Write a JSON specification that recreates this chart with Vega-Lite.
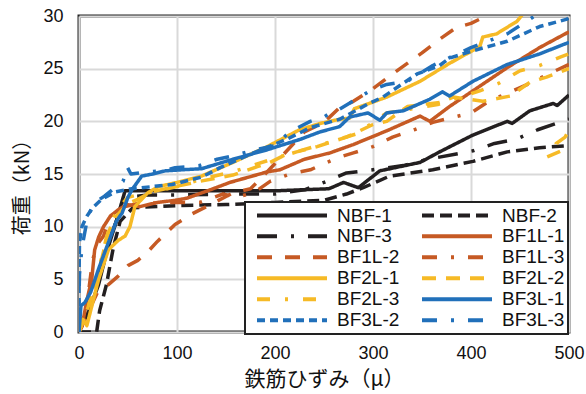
{
  "$schema": "https://vega.github.io/schema/vega-lite/v6.json",
  "width": 490,
  "height": 316,
  "autosize": "none",
  "padding": {"left": 79, "top": 16, "right": 17, "bottom": 62},
  "background": "white",
  "datasets": {
    "pts": [
      {"s":"NBF-1","i":0,"x":0,"y":0},{"s":"NBF-1","i":1,"x":10,"y":2},{"s":"NBF-1","i":2,"x":20,"y":4.5},{"s":"NBF-1","i":3,"x":28,"y":7.5},{"s":"NBF-1","i":4,"x":38,"y":10.5},{"s":"NBF-1","i":5,"x":47,"y":13.4},{"s":"NBF-1","i":6,"x":100,"y":13.4},{"s":"NBF-1","i":7,"x":150,"y":13.4},{"s":"NBF-1","i":8,"x":200,"y":13.4},{"s":"NBF-1","i":9,"x":255,"y":13.6},{"s":"NBF-1","i":10,"x":270,"y":14.2},{"s":"NBF-1","i":11,"x":285,"y":13.7},{"s":"NBF-1","i":12,"x":307,"y":15.3},{"s":"NBF-1","i":13,"x":348,"y":16.1},{"s":"NBF-1","i":14,"x":368,"y":17.1},{"s":"NBF-1","i":15,"x":402,"y":18.7},{"s":"NBF-1","i":16,"x":437,"y":20.0},{"s":"NBF-1","i":17,"x":442,"y":19.8},{"s":"NBF-1","i":18,"x":460,"y":21.0},{"s":"NBF-1","i":19,"x":484,"y":21.7},{"s":"NBF-1","i":20,"x":488,"y":21.5},{"s":"NBF-1","i":21,"x":500,"y":22.5},
      {"s":"NBF-2","i":0,"x":0,"y":0},{"s":"NBF-2","i":1,"x":18,"y":0},{"s":"NBF-2","i":2,"x":21,"y":2},{"s":"NBF-2","i":3,"x":28,"y":4.5},{"s":"NBF-2","i":4,"x":35,"y":8},{"s":"NBF-2","i":5,"x":42,"y":10.5},{"s":"NBF-2","i":6,"x":55,"y":11.8},{"s":"NBF-2","i":7,"x":100,"y":12},{"s":"NBF-2","i":8,"x":150,"y":12.1},{"s":"NBF-2","i":9,"x":200,"y":12.3},{"s":"NBF-2","i":10,"x":250,"y":12.5},{"s":"NBF-2","i":11,"x":273,"y":13.1},{"s":"NBF-2","i":12,"x":290,"y":13.7},{"s":"NBF-2","i":13,"x":317,"y":14.8},{"s":"NBF-2","i":14,"x":361,"y":15.4},{"s":"NBF-2","i":15,"x":402,"y":16.2},{"s":"NBF-2","i":16,"x":437,"y":17.1},{"s":"NBF-2","i":17,"x":470,"y":17.5},{"s":"NBF-2","i":18,"x":500,"y":17.7},
      {"s":"NBF-3","i":0,"x":0,"y":0},{"s":"NBF-3","i":1,"x":10,"y":2.5},{"s":"NBF-3","i":2,"x":20,"y":5},{"s":"NBF-3","i":3,"x":30,"y":8.5},{"s":"NBF-3","i":4,"x":40,"y":11},{"s":"NBF-3","i":5,"x":50,"y":12.8},{"s":"NBF-3","i":6,"x":70,"y":13},{"s":"NBF-3","i":7,"x":100,"y":13},{"s":"NBF-3","i":8,"x":150,"y":13.1},{"s":"NBF-3","i":9,"x":200,"y":13.1},{"s":"NBF-3","i":10,"x":230,"y":13.5},{"s":"NBF-3","i":11,"x":250,"y":14.2},{"s":"NBF-3","i":12,"x":273,"y":15.1},{"s":"NBF-3","i":13,"x":300,"y":15.4},{"s":"NBF-3","i":14,"x":331,"y":15.8},{"s":"NBF-3","i":15,"x":356,"y":16.4},{"s":"NBF-3","i":16,"x":402,"y":17.2},{"s":"NBF-3","i":17,"x":424,"y":17.9},{"s":"NBF-3","i":18,"x":446,"y":18.3},{"s":"NBF-3","i":19,"x":468,"y":19.2},{"s":"NBF-3","i":20,"x":487,"y":19.8},{"s":"NBF-3","i":21,"x":500,"y":20.2},
      {"s":"BF1L-1","i":0,"x":0,"y":0},{"s":"BF1L-1","i":1,"x":3,"y":0.5},{"s":"BF1L-1","i":2,"x":8,"y":3},{"s":"BF1L-1","i":3,"x":13,"y":5},{"s":"BF1L-1","i":4,"x":16,"y":7.8},{"s":"BF1L-1","i":5,"x":20,"y":9},{"s":"BF1L-1","i":6,"x":25,"y":10},{"s":"BF1L-1","i":7,"x":32,"y":11},{"s":"BF1L-1","i":8,"x":40,"y":11.6},{"s":"BF1L-1","i":9,"x":49,"y":12.1},{"s":"BF1L-1","i":10,"x":62,"y":11.9},{"s":"BF1L-1","i":11,"x":80,"y":12.3},{"s":"BF1L-1","i":12,"x":98,"y":12.5},{"s":"BF1L-1","i":13,"x":110,"y":12.7},{"s":"BF1L-1","i":14,"x":131,"y":13.4},{"s":"BF1L-1","i":15,"x":154,"y":14.2},{"s":"BF1L-1","i":16,"x":192,"y":15.2},{"s":"BF1L-1","i":17,"x":205,"y":15.4},{"s":"BF1L-1","i":18,"x":230,"y":16.4},{"s":"BF1L-1","i":19,"x":256,"y":17},{"s":"BF1L-1","i":20,"x":280,"y":17.8},{"s":"BF1L-1","i":21,"x":314,"y":19.1},{"s":"BF1L-1","i":22,"x":348,"y":20.5},{"s":"BF1L-1","i":23,"x":358,"y":20},{"s":"BF1L-1","i":24,"x":378,"y":21.4},{"s":"BF1L-1","i":25,"x":402,"y":22.9},{"s":"BF1L-1","i":26,"x":437,"y":25.1},{"s":"BF1L-1","i":27,"x":470,"y":27},{"s":"BF1L-1","i":28,"x":500,"y":28.5},
      {"s":"BF1L-2","i":0,"x":0,"y":0},{"s":"BF1L-2","i":1,"x":5,"y":1},{"s":"BF1L-2","i":2,"x":10,"y":2},{"s":"BF1L-2","i":3,"x":19,"y":3.8},{"s":"BF1L-2","i":4,"x":30,"y":4.5},{"s":"BF1L-2","i":5,"x":40,"y":5.3},{"s":"BF1L-2","i":6,"x":50,"y":6.3},{"s":"BF1L-2","i":7,"x":60,"y":6.8},{"s":"BF1L-2","i":8,"x":70,"y":7.6},{"s":"BF1L-2","i":9,"x":80,"y":8.6},{"s":"BF1L-2","i":10,"x":98,"y":10.2},{"s":"BF1L-2","i":11,"x":115,"y":11.2},{"s":"BF1L-2","i":12,"x":130,"y":11.9},{"s":"BF1L-2","i":13,"x":157,"y":13.2},{"s":"BF1L-2","i":14,"x":175,"y":13.6},{"s":"BF1L-2","i":15,"x":190,"y":15},{"s":"BF1L-2","i":16,"x":210,"y":17},{"s":"BF1L-2","i":17,"x":230,"y":19},{"s":"BF1L-2","i":18,"x":250,"y":19.9},{"s":"BF1L-2","i":19,"x":266,"y":21.3},{"s":"BF1L-2","i":20,"x":280,"y":21.9},{"s":"BF1L-2","i":21,"x":300,"y":23.1},{"s":"BF1L-2","i":22,"x":320,"y":24.5},{"s":"BF1L-2","i":23,"x":335,"y":25.5},{"s":"BF1L-2","i":24,"x":350,"y":26.5},{"s":"BF1L-2","i":25,"x":368,"y":27.8},{"s":"BF1L-2","i":26,"x":385,"y":28.9},{"s":"BF1L-2","i":27,"x":400,"y":29.3},{"s":"BF1L-2","i":28,"x":420,"y":30.2},{"s":"BF1L-2","i":29,"x":430,"y":31},
      {"s":"BF1L-3","i":0,"x":0,"y":0},{"s":"BF1L-3","i":1,"x":5,"y":2},{"s":"BF1L-3","i":2,"x":10,"y":4},{"s":"BF1L-3","i":3,"x":14,"y":6.9},{"s":"BF1L-3","i":4,"x":20,"y":8.5},{"s":"BF1L-3","i":5,"x":25,"y":9.1},{"s":"BF1L-3","i":6,"x":32,"y":11},{"s":"BF1L-3","i":7,"x":47,"y":11.9},{"s":"BF1L-3","i":8,"x":60,"y":12.2},{"s":"BF1L-3","i":9,"x":100,"y":12.3},{"s":"BF1L-3","i":10,"x":123,"y":12.3},{"s":"BF1L-3","i":11,"x":147,"y":13.1},{"s":"BF1L-3","i":12,"x":160,"y":12.8},{"s":"BF1L-3","i":13,"x":178,"y":13.2},{"s":"BF1L-3","i":14,"x":195,"y":14.3},{"s":"BF1L-3","i":15,"x":215,"y":15},{"s":"BF1L-3","i":16,"x":236,"y":15.4},{"s":"BF1L-3","i":17,"x":253,"y":16.1},{"s":"BF1L-3","i":18,"x":266,"y":16.6},{"s":"BF1L-3","i":19,"x":280,"y":17},{"s":"BF1L-3","i":20,"x":300,"y":17.6},{"s":"BF1L-3","i":21,"x":320,"y":18.5},{"s":"BF1L-3","i":22,"x":342,"y":19.2},{"s":"BF1L-3","i":23,"x":361,"y":19.9},{"s":"BF1L-3","i":24,"x":378,"y":20.3},{"s":"BF1L-3","i":25,"x":400,"y":20.8},{"s":"BF1L-3","i":26,"x":418,"y":21.9},{"s":"BF1L-3","i":27,"x":438,"y":22.7},{"s":"BF1L-3","i":28,"x":460,"y":23.6},{"s":"BF1L-3","i":29,"x":479,"y":24.5},{"s":"BF1L-3","i":30,"x":500,"y":25.4},
      {"s":"BF2L-1","i":0,"x":0,"y":0},{"s":"BF2L-1","i":1,"x":4,"y":1.2},{"s":"BF2L-1","i":2,"x":8,"y":0.6},{"s":"BF2L-1","i":3,"x":14,"y":2.8},{"s":"BF2L-1","i":4,"x":20,"y":5},{"s":"BF2L-1","i":5,"x":30,"y":7.8},{"s":"BF2L-1","i":6,"x":40,"y":8.7},{"s":"BF2L-1","i":7,"x":47,"y":9.1},{"s":"BF2L-1","i":8,"x":52,"y":10},{"s":"BF2L-1","i":9,"x":57,"y":11.9},{"s":"BF2L-1","i":10,"x":64,"y":12.6},{"s":"BF2L-1","i":11,"x":70,"y":13.2},{"s":"BF2L-1","i":12,"x":81,"y":13.8},{"s":"BF2L-1","i":13,"x":100,"y":14.2},{"s":"BF2L-1","i":14,"x":125,"y":14.8},{"s":"BF2L-1","i":15,"x":157,"y":16.1},{"s":"BF2L-1","i":16,"x":192,"y":17.6},{"s":"BF2L-1","i":17,"x":225,"y":19.2},{"s":"BF2L-1","i":18,"x":246,"y":19.8},{"s":"BF2L-1","i":19,"x":266,"y":20.2},{"s":"BF2L-1","i":20,"x":276,"y":20.3},{"s":"BF2L-1","i":21,"x":281,"y":21.2},{"s":"BF2L-1","i":22,"x":314,"y":22.3},{"s":"BF2L-1","i":23,"x":348,"y":23.8},{"s":"BF2L-1","i":24,"x":378,"y":25.5},{"s":"BF2L-1","i":25,"x":409,"y":27.1},{"s":"BF2L-1","i":26,"x":412,"y":28},{"s":"BF2L-1","i":27,"x":426,"y":28.3},{"s":"BF2L-1","i":28,"x":447,"y":29.5},{"s":"BF2L-1","i":29,"x":453,"y":30.2},{"s":"BF2L-1","i":30,"x":460,"y":31},
      {"s":"BF2L-2","i":0,"x":0,"y":0},{"s":"BF2L-2","i":1,"x":8,"y":2},{"s":"BF2L-2","i":2,"x":15,"y":4},{"s":"BF2L-2","i":3,"x":22,"y":6.5},{"s":"BF2L-2","i":4,"x":30,"y":9.5},{"s":"BF2L-2","i":5,"x":38,"y":11},{"s":"BF2L-2","i":6,"x":50,"y":12.2},{"s":"BF2L-2","i":7,"x":60,"y":12.6},{"s":"BF2L-2","i":8,"x":74,"y":13.3},{"s":"BF2L-2","i":9,"x":98,"y":13.8},{"s":"BF2L-2","i":10,"x":123,"y":14.3},{"s":"BF2L-2","i":11,"x":157,"y":14.9},{"s":"BF2L-2","i":12,"x":182,"y":15.7},{"s":"BF2L-2","i":13,"x":195,"y":16.1},{"s":"BF2L-2","i":14,"x":208,"y":16.7},{"s":"BF2L-2","i":15,"x":222,"y":17.1},{"s":"BF2L-2","i":16,"x":243,"y":17.6},{"s":"BF2L-2","i":17,"x":256,"y":18},{"s":"BF2L-2","i":18,"x":273,"y":18.5},{"s":"BF2L-2","i":19,"x":300,"y":19.7},{"s":"BF2L-2","i":20,"x":314,"y":20},{"s":"BF2L-2","i":21,"x":335,"y":21.4},{"s":"BF2L-2","i":22,"x":351,"y":21.6},{"s":"BF2L-2","i":23,"x":368,"y":21.8},{"s":"BF2L-2","i":24,"x":382,"y":22.3},{"s":"BF2L-2","i":25,"x":412,"y":21.9},{"s":"BF2L-2","i":26,"x":440,"y":22.4},{"s":"BF2L-2","i":27,"x":460,"y":23.7},{"s":"BF2L-2","i":28,"x":477,"y":24.2},{"s":"BF2L-2","i":29,"x":500,"y":25},{"s":"BF2L-2","i":30,"x":520,"y":25.5},{"s":"BF2L-2","i":31,"x":525,"y":19.8},{"s":"BF2L-2","i":32,"x":502,"y":19.5},{"s":"BF2L-2","i":33,"x":496,"y":18.5},{"s":"BF2L-2","i":34,"x":487,"y":17.9},{"s":"BF2L-2","i":35,"x":492,"y":17.2},{"s":"BF2L-2","i":36,"x":477,"y":16.6},
      {"s":"BF2L-3","i":0,"x":0,"y":0},{"s":"BF2L-3","i":1,"x":8,"y":2},{"s":"BF2L-3","i":2,"x":18,"y":5},{"s":"BF2L-3","i":3,"x":28,"y":9},{"s":"BF2L-3","i":4,"x":38,"y":11.5},{"s":"BF2L-3","i":5,"x":50,"y":12.8},{"s":"BF2L-3","i":6,"x":70,"y":13.2},{"s":"BF2L-3","i":7,"x":100,"y":13.8},{"s":"BF2L-3","i":8,"x":125,"y":14.5},{"s":"BF2L-3","i":9,"x":160,"y":15.3},{"s":"BF2L-3","i":10,"x":200,"y":16.5},{"s":"BF2L-3","i":11,"x":240,"y":17.6},{"s":"BF2L-3","i":12,"x":283,"y":18.8},{"s":"BF2L-3","i":13,"x":314,"y":20.8},{"s":"BF2L-3","i":14,"x":340,"y":21.2},{"s":"BF2L-3","i":15,"x":366,"y":21.6},{"s":"BF2L-3","i":16,"x":409,"y":22.9},{"s":"BF2L-3","i":17,"x":428,"y":23.6},{"s":"BF2L-3","i":18,"x":450,"y":24.8},{"s":"BF2L-3","i":19,"x":470,"y":25.3},{"s":"BF2L-3","i":20,"x":491,"y":26.1},{"s":"BF2L-3","i":21,"x":500,"y":26.4},
      {"s":"BF3L-1","i":0,"x":0,"y":0},{"s":"BF3L-1","i":1,"x":2,"y":2.5},{"s":"BF3L-1","i":2,"x":6,"y":2.8},{"s":"BF3L-1","i":3,"x":12,"y":3.8},{"s":"BF3L-1","i":4,"x":20,"y":6},{"s":"BF3L-1","i":5,"x":30,"y":8.5},{"s":"BF3L-1","i":6,"x":38,"y":10.5},{"s":"BF3L-1","i":7,"x":44,"y":11.3},{"s":"BF3L-1","i":8,"x":50,"y":12.8},{"s":"BF3L-1","i":9,"x":54,"y":13.5},{"s":"BF3L-1","i":10,"x":64,"y":14.8},{"s":"BF3L-1","i":11,"x":75,"y":15},{"s":"BF3L-1","i":12,"x":88,"y":15.3},{"s":"BF3L-1","i":13,"x":105,"y":15.4},{"s":"BF3L-1","i":14,"x":125,"y":15.5},{"s":"BF3L-1","i":15,"x":157,"y":16.4},{"s":"BF3L-1","i":16,"x":192,"y":17.3},{"s":"BF3L-1","i":17,"x":226,"y":18.3},{"s":"BF3L-1","i":18,"x":246,"y":19},{"s":"BF3L-1","i":19,"x":266,"y":19.5},{"s":"BF3L-1","i":20,"x":276,"y":20.4},{"s":"BF3L-1","i":21,"x":295,"y":20.8},{"s":"BF3L-1","i":22,"x":307,"y":20.1},{"s":"BF3L-1","i":23,"x":314,"y":20.8},{"s":"BF3L-1","i":24,"x":331,"y":21},{"s":"BF3L-1","i":25,"x":358,"y":22.1},{"s":"BF3L-1","i":26,"x":371,"y":22.8},{"s":"BF3L-1","i":27,"x":378,"y":22.4},{"s":"BF3L-1","i":28,"x":402,"y":23.8},{"s":"BF3L-1","i":29,"x":437,"y":25.4},{"s":"BF3L-1","i":30,"x":470,"y":26.4},{"s":"BF3L-1","i":31,"x":500,"y":27.5},
      {"s":"BF3L-2","i":0,"x":0,"y":0},{"s":"BF3L-2","i":1,"x":0,"y":5},{"s":"BF3L-2","i":2,"x":0.5,"y":8.5},{"s":"BF3L-2","i":3,"x":3,"y":10},{"s":"BF3L-2","i":4,"x":8,"y":11},{"s":"BF3L-2","i":5,"x":14,"y":11.8},{"s":"BF3L-2","i":6,"x":23,"y":12.6},{"s":"BF3L-2","i":7,"x":37,"y":13.3},{"s":"BF3L-2","i":8,"x":54,"y":13.6},{"s":"BF3L-2","i":9,"x":64,"y":13.7},{"s":"BF3L-2","i":10,"x":95,"y":14},{"s":"BF3L-2","i":11,"x":125,"y":14.7},{"s":"BF3L-2","i":12,"x":144,"y":15.6},{"s":"BF3L-2","i":13,"x":178,"y":17},{"s":"BF3L-2","i":14,"x":212,"y":18.3},{"s":"BF3L-2","i":15,"x":236,"y":19.4},{"s":"BF3L-2","i":16,"x":266,"y":20.2},{"s":"BF3L-2","i":17,"x":294,"y":21.6},{"s":"BF3L-2","i":18,"x":310,"y":22.3},{"s":"BF3L-2","i":19,"x":345,"y":24.5},{"s":"BF3L-2","i":20,"x":368,"y":25.3},{"s":"BF3L-2","i":21,"x":378,"y":26},{"s":"BF3L-2","i":22,"x":402,"y":26.7},{"s":"BF3L-2","i":23,"x":437,"y":27.6},{"s":"BF3L-2","i":24,"x":470,"y":29},{"s":"BF3L-2","i":25,"x":498,"y":29.7},{"s":"BF3L-2","i":26,"x":505,"y":30.2},
      {"s":"BF3L-3","i":0,"x":0,"y":0},{"s":"BF3L-3","i":1,"x":0,"y":3},{"s":"BF3L-3","i":2,"x":0.5,"y":5.5},{"s":"BF3L-3","i":3,"x":3,"y":8},{"s":"BF3L-3","i":4,"x":9,"y":11},{"s":"BF3L-3","i":5,"x":16,"y":12.3},{"s":"BF3L-3","i":6,"x":26,"y":12.9},{"s":"BF3L-3","i":7,"x":34,"y":13.5},{"s":"BF3L-3","i":8,"x":45,"y":14.3},{"s":"BF3L-3","i":9,"x":49,"y":15.7},{"s":"BF3L-3","i":10,"x":53,"y":15},{"s":"BF3L-3","i":11,"x":69,"y":15.2},{"s":"BF3L-3","i":12,"x":86,"y":15.3},{"s":"BF3L-3","i":13,"x":98,"y":15.6},{"s":"BF3L-3","i":14,"x":123,"y":15.8},{"s":"BF3L-3","i":15,"x":141,"y":16.4},{"s":"BF3L-3","i":16,"x":156,"y":16.7},{"s":"BF3L-3","i":17,"x":180,"y":17.3},{"s":"BF3L-3","i":18,"x":200,"y":17.7},{"s":"BF3L-3","i":19,"x":215,"y":19},{"s":"BF3L-3","i":20,"x":236,"y":20},{"s":"BF3L-3","i":21,"x":250,"y":20.4},{"s":"BF3L-3","i":22,"x":258,"y":20.9},{"s":"BF3L-3","i":23,"x":263,"y":21},{"s":"BF3L-3","i":24,"x":297,"y":22.9},{"s":"BF3L-3","i":25,"x":314,"y":23.5},{"s":"BF3L-3","i":26,"x":335,"y":23.8},{"s":"BF3L-3","i":27,"x":361,"y":25.3},{"s":"BF3L-3","i":28,"x":400,"y":27},{"s":"BF3L-3","i":29,"x":437,"y":28.3},{"s":"BF3L-3","i":30,"x":465,"y":30},{"s":"BF3L-3","i":31,"x":480,"y":31}
    ]
  },
  "data": {"name": "pts"},
  "mark": {"type": "line", "clip": true, "strokeWidth": 3.5, "strokeCap": "butt", "strokeJoin": "round"},
  "encoding": {
    "x": {"field": "x", "type": "quantitative", "scale": {"domain": [0, 500], "nice": false},
      "axis": {"title": "鉄筋ひずみ（μ）", "values": [0, 100, 200, 300, 400, 500]}},
    "y": {"field": "y", "type": "quantitative", "scale": {"domain": [0, 30], "nice": false},
      "axis": {"title": "荷重（kN）", "values": [0, 5, 10, 15, 20, 25, 30]}},
    "order": {"field": "i", "type": "quantitative"},
    "color": {"field": "s", "type": "nominal", "legend": {"title": null},
      "scale": {"domain": ["NBF-1","NBF-2","NBF-3","BF1L-1","BF1L-2","BF1L-3","BF2L-1","BF2L-2","BF2L-3","BF3L-1","BF3L-2","BF3L-3"],
        "range": ["#231f20","#231f20","#231f20","#c65a24","#c65a24","#c65a24","#f6ba26","#f6ba26","#f6ba26","#2170ba","#2170ba","#2170ba"]}},
    "strokeDash": {"field": "s", "type": "nominal", "legend": {"title": null},
      "scale": {"domain": ["NBF-1","NBF-2","NBF-3","BF1L-1","BF1L-2","BF1L-3","BF2L-1","BF2L-2","BF2L-3","BF3L-1","BF3L-2","BF3L-3"],
        "range": [[1,0],[12,6],[20,14,3,14],[1,0],[15,13],[15,14,3,14],[1,0],[14,10],[13,15,3,15],[1,0],[8,5],[15,14,3,14]]}}
  },
  "config": {
    "view": {"stroke": "#222222", "strokeWidth": 3},
    "axis": {"domain": false, "ticks": false, "grid": true, "gridColor": "#d9d9d9", "gridWidth": 2,
      "labelFont": "Liberation Sans", "labelFontSize": 18, "labelColor": "#111111", "labelFlush": false,
      "titleFont": "Noto Sans CJK JP", "titleFontWeight": "normal", "titleColor": "#111111"},
    "axisX": {"labelPadding": 12, "titleFontSize": 21, "titlePadding": 6},
    "axisY": {"labelPadding": 16, "titleFontSize": 20, "titlePadding": 10, "titleY": 166},
    "legend": {"orient": "none", "legendX": 166, "legendY": 186, "columns": 2, "direction": "horizontal",
      "symbolType": "stroke", "symbolSize": 4900, "symbolStrokeWidth": 4, "clipHeight": 20.7, "rowPadding": 0,
      "columnPadding": 13, "symbolOffset": 7, "labelOffset": 8, "padding": 3,
      "labelFont": "Liberation Sans", "labelFontSize": 19, "labelColor": "#111111", "labelLimit": 200,
      "fillColor": "white", "strokeColor": "#222222", "strokeWidth": 2}
  }
}
